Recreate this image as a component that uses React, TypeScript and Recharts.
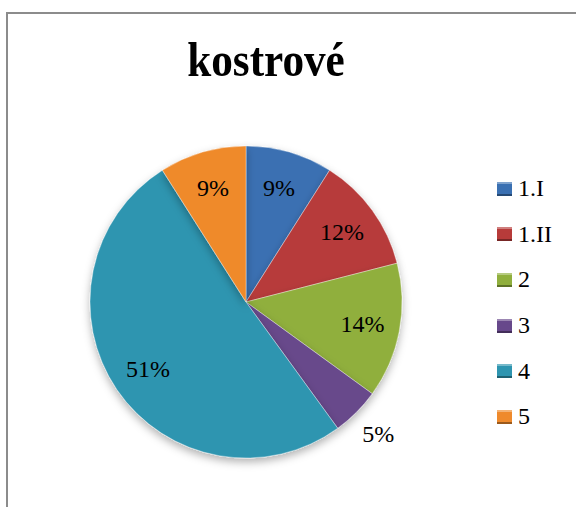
import { PieChart, Pie, Cell, Legend } from 'recharts';

const categories = ['1.I', '1.II', '2', '3', '4', '5'];
const shares = [9, 12, 14, 5, 51, 9];
const colors = ['#3A70B2', '#B73B3A', '#90AF3D', '#67488B', '#2E95B0', '#EF8A2C'];

const pieData = categories.map((name, i) => ({ name, value: shares[i] }));

const RAD = Math.PI / 180;

const renderLabel = (props: any) => {
  const { cx, cy, midAngle, outerRadius, index, value } = props;
  const r = index === 3 ? outerRadius + 31 : outerRadius * 0.76;
  const x = cx + r * Math.cos(-midAngle * RAD);
  const y = cy + r * Math.sin(-midAngle * RAD);
  return (
    <text
      x={x}
      y={y}
      fill="#000"
      textAnchor="middle"
      dominantBaseline="central"
      fontFamily="'Liberation Serif', serif"
      fontSize={24}
    >
      {value}%
    </text>
  );
};

const LegendBox = () => (
  <div>
    {categories.map((c, i) => (
      <div key={c} style={{ display: 'flex', alignItems: 'center', height: 45.6 }}>
        <span
          style={{
            display: 'inline-block',
            width: 15,
            height: 14,
            background: colors[i],
            boxShadow: 'inset 0 -2px 0 rgba(0,0,0,0.35), inset 0 2px 0 rgba(255,255,255,0.35)',
            marginRight: 6,
          }}
        />
        <span style={{ fontFamily: "'Liberation Serif', serif", fontSize: 24, color: '#000' }}>{c}</span>
      </div>
    ))}
  </div>
);

const App = () => {
  return (
    <div style={{ position: 'absolute', left: 0, top: 0, width: 576, height: 507, overflow: 'hidden', background: '#fff' }}>
      <div
        style={{
          position: 'absolute',
          left: 6,
          top: 12,
          width: 620,
          height: 600,
          border: '2px solid #8c8c8c',
        }}
      />
      <div
        style={{
          position: 'absolute',
          left: 0,
          top: 34,
          width: 532,
          textAlign: 'center',
          fontFamily: "'Liberation Serif', serif",
          fontWeight: 'bold',
          fontSize: 48,
          lineHeight: '52px',
          color: '#000',
          transform: 'scaleX(0.9)',
          transformOrigin: '266px 0',
        }}
      >
        kostrové
      </div>
      <div style={{ position: 'absolute', left: 0, top: 0 }}>
        <PieChart width={576} height={507} margin={{ top: 0, right: 0, bottom: 0, left: 0 }}>
          <defs>
            <filter id="shadow" x="-20%" y="-20%" width="140%" height="140%">
              <feDropShadow dx="0" dy="4" stdDeviation="4" floodColor="#000" floodOpacity="0.3" />
            </filter>
          </defs>
          <Pie
            data={pieData}
            dataKey="value"
            nameKey="name"
            cx={246}
            cy={302}
            outerRadius={156}
            startAngle={90}
            endAngle={-270}
            stroke="rgba(255,255,255,0.35)"
            strokeWidth={1}
            labelLine={false}
            label={renderLabel}
            isAnimationActive={false}
            style={{ filter: 'url(#shadow)' }}
          >
            {pieData.map((d, i) => (
              <Cell key={d.name} fill={colors[i]} />
            ))}
          </Pie>
          <Legend
            layout="vertical"
            align="right"
            verticalAlign="top"
            content={<LegendBox />}
            wrapperStyle={{ position: 'absolute', left: 497, top: 166, width: 80 }}
          />
        </PieChart>
      </div>
    </div>
  );
};

export default App;
